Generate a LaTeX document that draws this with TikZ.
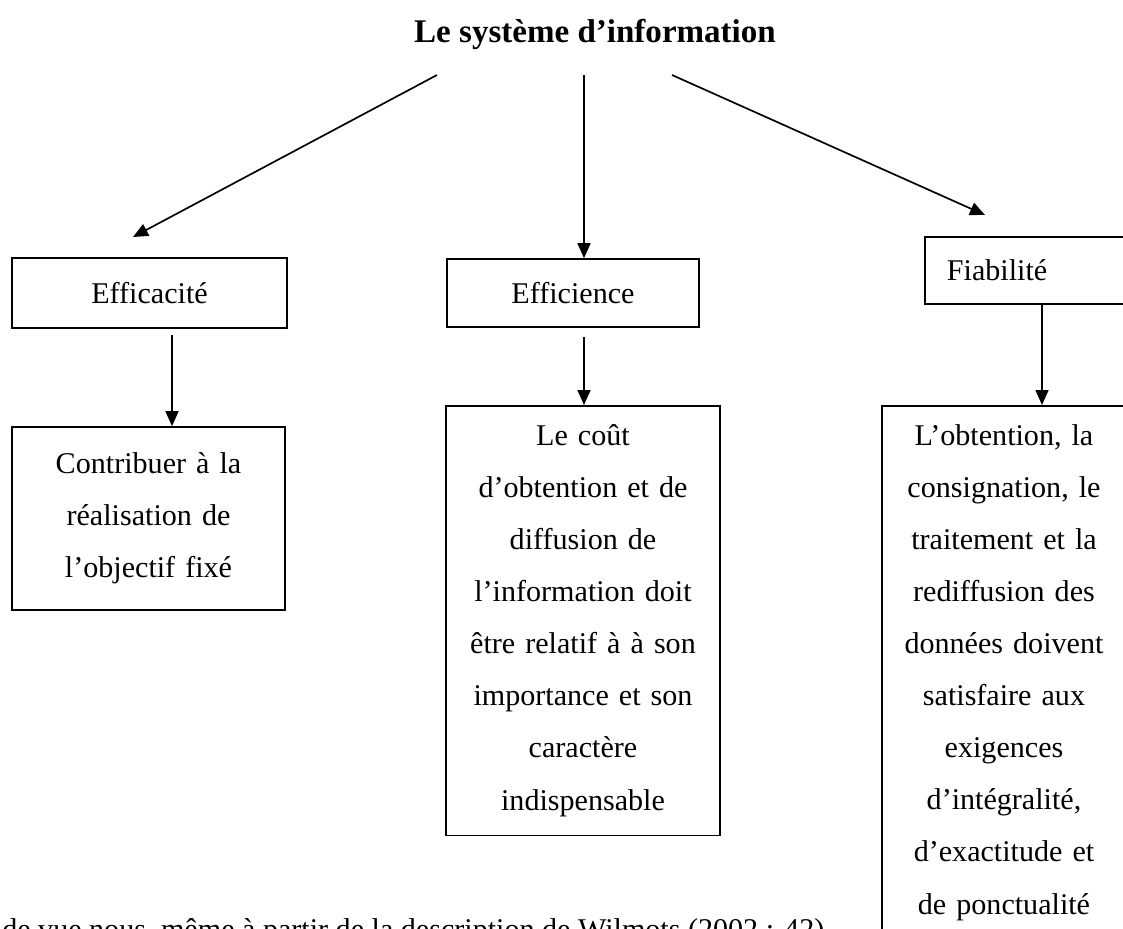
\documentclass[tikz,border=0pt]{standalone}
\usepackage{fontspec}
\setmainfont{Liberation Serif}
\usetikzlibrary{arrows.meta}

\begin{document}
\begin{tikzpicture}[x=0.025cm,y=-0.025cm,
  box/.style={rectangle,draw,line width=1.2pt,inner sep=0pt,align=center,font=\fontsize{21.4}{37}\selectfont},
  arr/.style={-{Triangle[length=3.75mm,width=3.25mm]},line width=1.2pt}]
\useasboundingbox (0,0) rectangle (1123,928);
\clip (0,0) rectangle (1123,928);

% Title and its three branches
\node[font=\fontsize{23.5}{28}\selectfont\bfseries] (sys) at (595,34) {Le système d’information};
\coordinate (t1) at (437,75);
\coordinate (t2) at (584,75);
\coordinate (t3) at (672,75);
\coordinate (e1) at (133,237);
\coordinate (e3) at (985,215);

% Criteria
\node[box,minimum width=6.875cm,minimum height=1.75cm] (effic) at (149.5,293) {Efficacité};
\node[box,minimum width=6.3cm,minimum height=1.7cm] (effin) at (573,293) {Efficience};
\node[box,minimum height=1.675cm] (fiab) at (1027.5,270.5) {\makebox[5.125cm][l]{\hspace{0.55cm}Fiabilité}};

\draw[arr] (t1) -- (e1);
\draw[arr] (t2) -- (effin.north -| t2);
\draw[arr] (t3) -- (e3);

% Descriptions
\node[box,minimum width=6.825cm,minimum height=4.575cm,text width=6.825cm] (goal) at (148.5,518.5)
  {Contribuer à la\\réalisation de\\l’objectif fixé};
\node[box,anchor=north,text width=6.85cm,inner ysep=0.475cm] (cost) at (583,405)
  {Le coût\\d’obtention et de\\diffusion de\\l’information doit\\être relatif à à son\\importance et son\\caractère\\indispensable};
\node[box,anchor=north,text width=6.1cm,inner ysep=0.475cm] (data) at (1004,405)
  {L’obtention, la\\consignation, le\\traitement et la\\rediffusion des\\données doivent\\satisfaire aux\\exigences\\d’intégralité,\\d’exactitude et\\de ponctualité};

\coordinate (d1) at (172,335);
\coordinate (d2) at (584,337);
\coordinate (d3) at (1042,304);
\draw[arr] (d1) -- (goal.north -| d1);
\draw[arr] (d2) -- (cost.north -| d2);
\draw[arr] (d3) -- (data.north -| d3);

% Running text below, cut by the page
\node[anchor=base west,inner sep=0pt,font=\fontsize{21.4}{37}\selectfont] (src) at (2,939)
  {de vue nous, même à partir de la description de Wilmots (2002 : 42)};
\end{tikzpicture}
\end{document}
